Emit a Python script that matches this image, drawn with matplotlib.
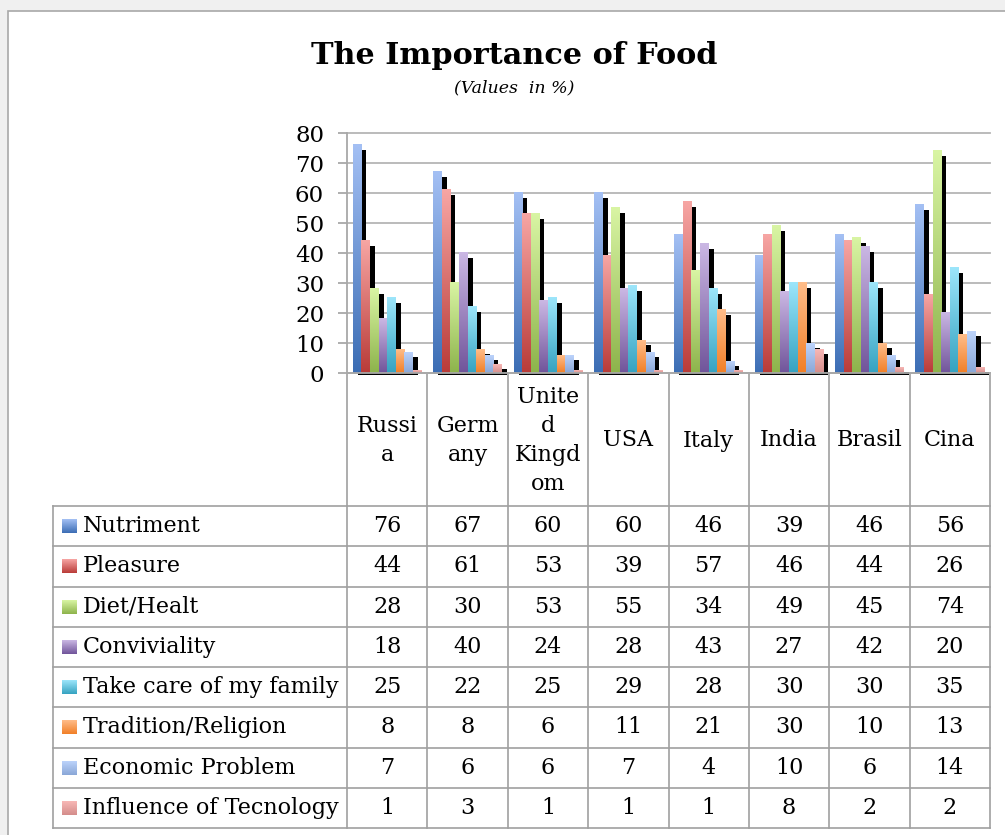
import numpy as np
import matplotlib
matplotlib.use("Agg")
import matplotlib.pyplot as plt
from matplotlib.colors import LinearSegmentedColormap
from matplotlib.patches import Rectangle
from matplotlib.lines import Line2D
from matplotlib import transforms

# ---------------- data ----------------
countries = ["Russia", "Germany", "United Kingdom", "USA", "Italy", "India", "Brasil", "Cina"]
country_labels = ["Russi\na", "Germ\nany", "Unite\nd\nKingd\nom", "USA", "Italy", "India", "Brasil", "Cina"]
series_names = ["Nutriment", "Pleasure", "Diet/Healt", "Conviviality",
                "Take care of my family", "Tradition/Religion",
                "Economic Problem", "Influence of Tecnology"]
nutriment = [76, 67, 60, 60, 46, 39, 46, 56]
pleasure = [44, 61, 53, 39, 57, 46, 44, 26]
diet_health = [28, 30, 53, 55, 34, 49, 45, 74]
conviviality = [18, 40, 24, 28, 43, 27, 42, 20]
family_care = [25, 22, 25, 29, 28, 30, 30, 35]
tradition = [8, 8, 6, 11, 21, 30, 10, 13]
economic = [7, 6, 6, 7, 4, 10, 6, 14]
technology = [1, 3, 1, 1, 1, 8, 2, 2]
series_values = [nutriment, pleasure, diet_health, conviviality,
                 family_care, tradition, economic, technology]
y_ticks = [0, 10, 20, 30, 40, 50, 60, 70, 80]

# gradient colours (top light, bottom dark) - Excel 2007 style
grad_colors = [("#a4c0f4", "#3b6db4"), ("#f7a6a4", "#b93b38"),
               ("#d9f5a4", "#8db34b"), ("#cbb8e4", "#70549a"),
               ("#9de6fb", "#35a2c0"), ("#ffbd8a", "#f17f27"),
               ("#bcd3fb", "#8aa7d7"), ("#f8b8b6", "#d48d8b")]

FONT = "DejaVu Serif"
W, H = 1005, 835
fig = plt.figure(figsize=(W / 100, H / 100), dpi=100)
fig.patch.set_facecolor("#f0f0f0")

# overlay axes in pixel coordinates for frame and table
ov = fig.add_axes([0, 0, 1, 1], zorder=0)
ov.set_xlim(0, W)
ov.set_ylim(H, 0)
ov.axis("off")
ov.add_patch(Rectangle((8, 11), W + 20, H + 20, facecolor="white",
                       edgecolor="#a8a8a8", lw=1.2))

# main plot axes
x_left, x_right = 347, 990
y_top, y_zero = 133, 373
ax = fig.add_axes([x_left / W, 1 - y_zero / H, (x_right - x_left) / W,
                   (y_zero - y_top) / H], zorder=2)
ax.set_facecolor("none")

n_cat = len(countries)
n_ser = len(series_values)
bw = 0.107
x = np.arange(n_cat)
shadow_tr = transforms.offset_copy(ax.transData, fig=fig, x=5, y=0, units="dots")
shadow_drop = 1.6   # shadow drop in value units (~5 px)

grad = np.linspace(1, 0, 256).reshape(-1, 1)
for j, vals in enumerate(series_values):
    for i, v in enumerate(vals):
        x0 = x[i] + (j - n_ser / 2) * bw
        ax.add_patch(Rectangle((x0, -0.6), bw, v - shadow_drop + 0.6,
                               facecolor="black", edgecolor="none",
                               transform=shadow_tr, zorder=2, clip_on=False))
for j, vals in enumerate(series_values):
    cmap = LinearSegmentedColormap.from_list("g%d" % j, [grad_colors[j][1], grad_colors[j][0]])
    for i, v in enumerate(vals):
        x0 = x[i] + (j - n_ser / 2) * bw
        ax.imshow(grad, extent=[x0, x0 + bw, 0, v], cmap=cmap, vmin=0, vmax=1,
                  aspect="auto", zorder=3, interpolation="bilinear")

ax.set_xlim(-0.5, n_cat - 0.5)
ax.set_ylim(0, 80)
ax.set_yticks(y_ticks)
ax.set_xticks([])
ax.grid(axis="y", color="#b5b5b5", lw=1.3, zorder=0)
ax.set_axisbelow(True)
for gl in ax.get_ygridlines():
    gl.set_clip_on(False)
for s in ["top", "right"]:
    ax.spines[s].set_visible(False)
ax.spines["left"].set_color("#a8a8a8")
ax.spines["bottom"].set_color("#a8a8a8")
ax.spines["left"].set_linewidth(1.3)
ax.spines["bottom"].set_linewidth(1.3)
ax.spines["bottom"].set_zorder(4)
ax.tick_params(axis="y", length=6.5, width=1.3, color="#a8a8a8", pad=10,
               labelsize=16.5)
for t in ax.get_yticklabels():
    t.set_fontfamily(FONT)

# title
ov.text(514, 55, "The Importance of Food", ha="center", va="center",
        fontsize=21.8, fontweight="bold", family=FONT)
ov.text(514, 88, "(Values  in %)", ha="center", va="center",
        fontsize=12.5, style="italic", family=FONT)

# table
line_c = "#a0a0a0"
col_w = (x_right - x_left) / n_cat
header_bottom = 506
row_h = (828 - header_bottom) / n_ser
tab_left = 53
for k in range(n_cat + 1):
    xx = x_left + k * col_w
    ov.add_line(Line2D([xx, xx], [y_zero, 828], color=line_c, lw=1.2))
ov.add_line(Line2D([tab_left, tab_left], [header_bottom, 828], color=line_c, lw=1.2))
for r in range(n_ser + 1):
    yy = header_bottom + r * row_h
    ov.add_line(Line2D([tab_left, x_right], [yy, yy], color=line_c, lw=1.2))

for i, lab in enumerate(country_labels):
    cx = x_left + (i + 0.5) * col_w
    ov.text(cx, (y_zero + header_bottom) / 2 + 1, lab, ha="center", va="center",
            fontsize=16, family=FONT, linespacing=1.42)

for j, name in enumerate(series_names):
    cy = header_bottom + (j + 0.5) * row_h
    ov.imshow(grad, extent=[62, 77, cy + 7, cy - 7],
              cmap=LinearSegmentedColormap.from_list("k%d" % j, [grad_colors[j][1], grad_colors[j][0]]),
              vmin=0, vmax=1, aspect="auto", zorder=3)
    ov.text(83, cy, name, ha="left", va="center", fontsize=16, family=FONT)
    for i, v in enumerate(series_values[j]):
        cx = x_left + (i + 0.5) * col_w
        ov.text(cx, cy, str(v), ha="center", va="center", fontsize=16, family=FONT)
ov.set_xlim(0, W)
ov.set_ylim(H, 0)

fig.savefig("out.png", dpi=100, facecolor=fig.get_facecolor())
